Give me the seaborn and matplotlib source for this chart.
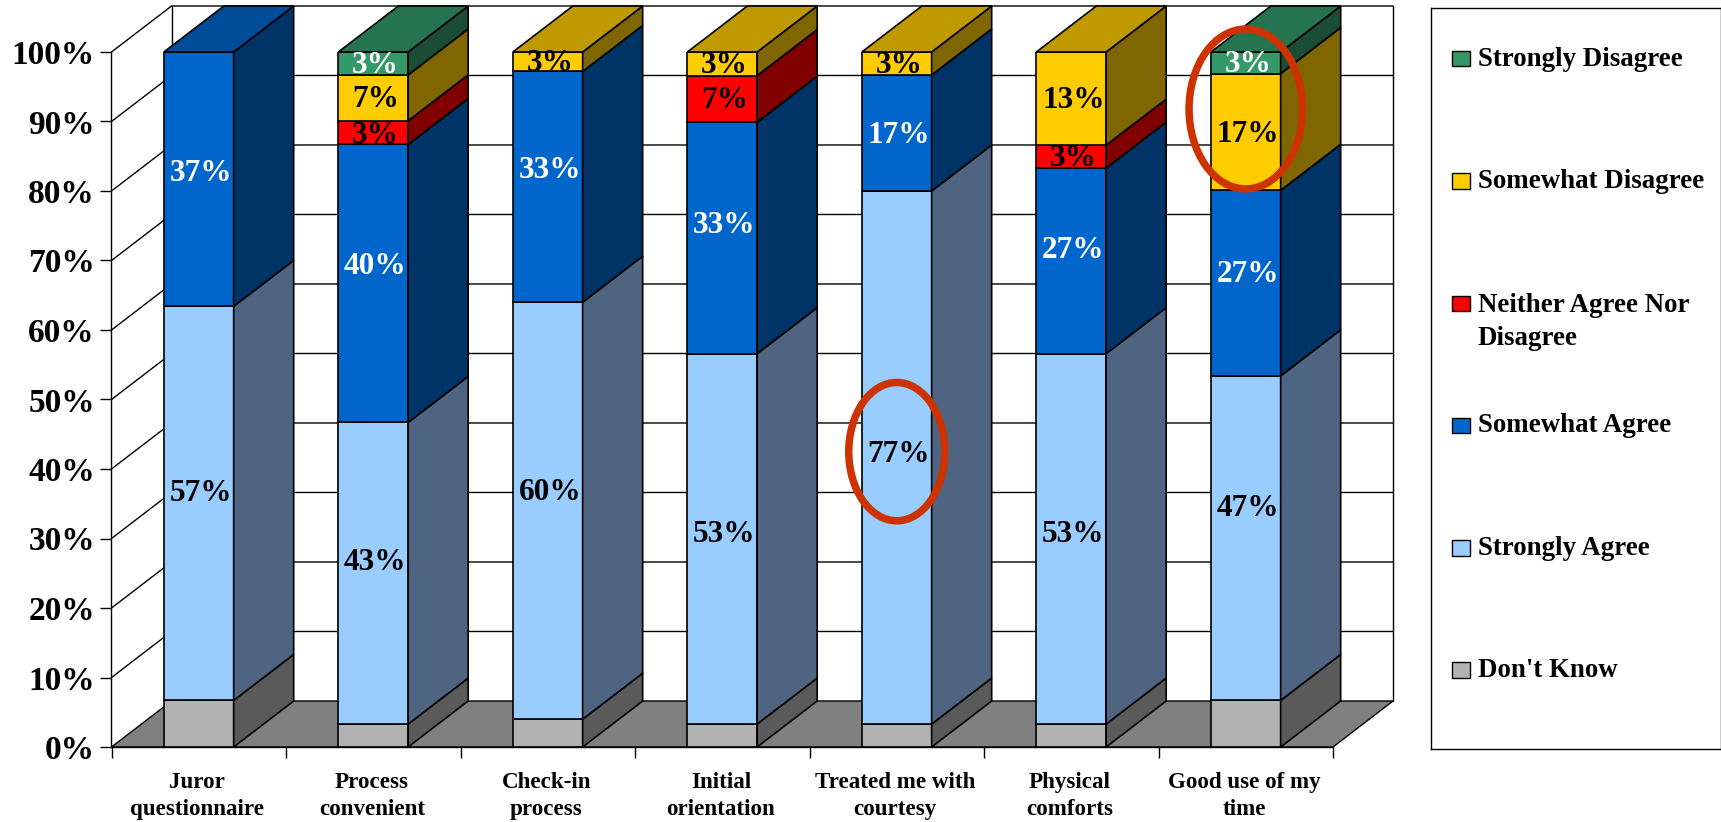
import matplotlib
matplotlib.use('Agg')
import matplotlib.pyplot as plt
import pandas as pd
import seaborn as sns
from matplotlib.patches import Ellipse, Polygon, Rectangle

# survey items along the x axis
items = ['Juror\nquestionnaire', 'Process\nconvenient', 'Check-in\nprocess', 'Initial\norientation',
         'Treated me with\ncourtesy', 'Physical\ncomforts', 'Good use of my\ntime']

# bar segments in percent, bottom of the stack first
dont_know = [6.7, 3.3, 4.0, 3.3, 3.3, 3.3, 6.7]
strongly_agree = [56.7, 43.4, 60.0, 53.3, 76.7, 53.3, 46.7]
somewhat_agree = [36.6, 40.0, 33.2, 33.3, 16.7, 26.7, 26.7]
neither = [0, 3.4, 0, 6.7, 0, 3.3, 0]
somewhat_disagree = [0, 6.6, 2.8, 3.4, 3.3, 13.4, 16.8]
strongly_disagree = [0, 3.3, 0, 0, 0, 0, 3.1]

y_ticks = [0, 10, 20, 30, 40, 50, 60, 70, 80, 90, 100]

# label, values, front colour, side colour, top colour, value label colour
series = [
    ("Don't Know", dont_know, '#B2B2B2', '#5A5A5A', '#858585', None),
    ('Strongly Agree', strongly_agree, '#99CCFF', '#4F6480', '#7399BF', 'black'),
    ('Somewhat Agree', somewhat_agree, '#0066CC', '#003366', '#004C99', 'white'),
    ('Neither Agree Nor\nDisagree', neither, '#FF0000', '#800000', '#BF0000', 'black'),
    ('Somewhat Disagree', somewhat_disagree, '#FFCC00', '#806600', '#BF9900', 'black'),
    ('Strongly Disagree', strongly_disagree, '#339966', '#1A4D33', '#267350', 'white'),
]
legend_order = [5, 4, 3, 2, 1, 0]

# label offsets seen in the picture, (item index, series index): percent points
nudges = {(0, 1): 1.4, (1, 1): 1.6, (2, 1): 2.6, (3, 1): 0.6, (4, 1): 0.5, (5, 1): 0.6, (6, 1): 4.3,
          (0, 2): 0.8, (1, 2): 2.5, (2, 2): 2.3, (3, 2): 1.8, (5, 2): 1.45, (6, 2): 1.3, (1, 3): -0.45}

depth_x = 0.344
depth_y = 6.62
font = 'Liberation Serif'

sns.set_theme(style='white')
plt.rcParams['font.family'] = [font, 'DejaVu Serif']
plt.rcParams['font.weight'] = 'bold'

W, H = 1721, 822
fig = plt.figure(figsize=(W / 100, H / 100), dpi=100)
ax = fig.add_axes([111.5 / W, (H - 747) / H, (1333 - 111.5) / W, 695 / H])

# stacked front faces
bottoms = [0] * len(items)
for label, values, front, side, top, text_col in series:
    df = pd.DataFrame({'item': items, 'value': values})
    sns.barplot(data=df, x='item', y='value', order=items, bottom=bottoms, width=0.4,
                color=front, saturation=1, edgecolor='black', linewidth=1.2, ax=ax, zorder=3)
    bottoms = [b + v for b, v in zip(bottoms, values)]

ax.set_xlim(-0.5, 6.5)
ax.set_ylim(0, 100)

# side faces and top caps follow the bars that seaborn drew
n = len(items)
for s, (label, values, front, side, top, text_col) in enumerate(series):
    for i, patch in enumerate(ax.patches[s * n:(s + 1) * n]):
        h = patch.get_height()
        if h == 0:
            continue
        x0, w, y0 = patch.get_x(), patch.get_width(), patch.get_y()
        x1 = x0 + w
        y1 = y0 + h
        ax.add_patch(Polygon([(x1, y0), (x1 + depth_x, y0 + depth_y), (x1 + depth_x, y1 + depth_y), (x1, y1)],
                             fc=side, ec='black', lw=1.2, zorder=3, clip_on=False))
        if y1 > 99.5:
            ax.add_patch(Polygon([(x0, y1), (x1, y1), (x1 + depth_x, y1 + depth_y), (x0 + depth_x, y1 + depth_y)],
                                 fc=top, ec='black', lw=1.2, zorder=3, clip_on=False))
        if text_col:
            ax.text(x0 + w / 2 + 0.012, y0 + h / 2 + nudges.get((i, s), -0.3), f'{round(h)}%', color=text_col,
                    ha='center', va='center', fontsize=22.5, fontweight='bold', zorder=5)

# floor and walls
x_l, x_r = -0.5, 6.5
ax.add_patch(Polygon([(x_l, 0), (x_r, 0), (x_r + depth_x, depth_y), (x_l + depth_x, depth_y)],
                     fc='#808080', ec='black', lw=1.0, zorder=1, clip_on=False))
for v in y_ticks[1:]:
    ax.plot([x_l, x_l + depth_x, x_r + depth_x], [v, v + depth_y, v + depth_y],
            color='black', lw=1.0, zorder=1, clip_on=False)
top_wall = 100 + depth_y
for xw in [x_l + depth_x, x_r + depth_x]:
    ax.plot([xw, xw], [depth_y, top_wall], color='black', lw=1.0, zorder=1, clip_on=False)

# highlight rings
for cx, cy, ew, eh in [(6, 91.8, 0.65, 23.0), (4, 42.5, 0.55, 19.9)]:
    ax.add_patch(Ellipse((cx, cy), ew, eh, fc='none', ec='#CC3300', lw=5.4, zorder=6, clip_on=False))

# axes
sns.despine(ax=ax, top=True, right=True)
for sp in ['left', 'bottom']:
    ax.spines[sp].set_color('black')
    ax.spines[sp].set_linewidth(1.0)
    ax.spines[sp].set_zorder(4)
ax.set_xlabel('')
ax.set_ylabel('')
ax.set_yticks(y_ticks)
ax.set_yticklabels([f'{v}%' for v in y_ticks], fontsize=24, fontweight='bold', color='black')
ax.set_xticks([i - 0.5 for i in range(n + 1)])
ax.set_xticklabels([''] * (n + 1))
ax.tick_params(axis='both', which='major', direction='out', length=8, width=1.0, color='black',
               left=True, bottom=True)
ax.tick_params(axis='y', pad=4)
for i, name in enumerate(items):
    ax.annotate(name, (i, 0), xytext=(-1, -18), textcoords='offset points', ha='center', va='top',
                fontsize=16.6, fontweight='bold', color='black', linespacing=1.4, annotation_clip=False)

# legend box
lax = fig.add_axes([1431 / W, (H - 749) / H, 289.5 / W, 741 / H])
lax.set_xlim(0, 289.5)
lax.set_ylim(741, 0)
lax.set_xticks([])
lax.set_yticks([])
for sp in lax.spines.values():
    sp.set_visible(True)
    sp.set_color('black')
    sp.set_linewidth(1.0)
for row, s in enumerate(legend_order):
    label, front = series[s][0], series[s][2]
    y = 51 + 122.3 * row
    lax.add_patch(Rectangle((20.5, y - 8), 18, 15.5, fc=front, ec='black', lw=1.0))
    if '\n' in label:
        lax.text(47, y - 11, label, ha='left', va='top', fontsize=19.4, fontweight='bold',
                 color='black', linespacing=1.42)
    else:
        lax.text(47, y, label, ha='left', va='center', fontsize=19.4, fontweight='bold', color='black')

fig.savefig('out.png', dpi=100)
